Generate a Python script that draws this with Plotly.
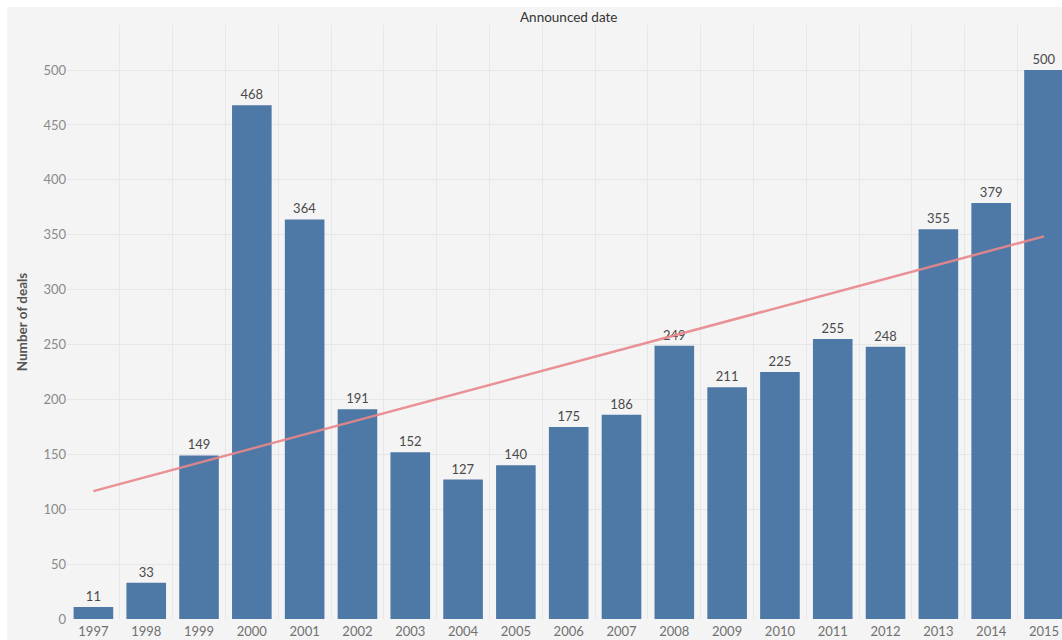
import numpy as np
import plotly.graph_objects as go

years = [str(y) for y in range(1997, 2016)]
deals = [11, 33, 149, 468, 364, 191, 152, 127, 140, 175, 186, 249, 211, 225, 255, 248, 355, 379, 500]
y_ticks = [0, 50, 100, 150, 200, 250, 300, 350, 400, 450, 500]

xs = list(range(len(years)))
slope, intercept = np.polyfit(xs, deals, 1)
trend_x = [xs[0], xs[-1]]
trend_y = [intercept + slope * xs[0], intercept + slope * xs[-1]]

W, H = 1062, 640
ML, MR, MT, MB = 67, 0, 25, 21
pw = W - ML - MR
ph = H - MT - MB
cat_px = 52.81
x_end = -0.5 + pw / cat_px
px_per_unit = 1.0978
y_top = ph / px_per_unit

BG = "#f4f4f4"
GRID = "#e7e7e7"
FONT = "Lato, 'Open Sans', sans-serif"

fig = go.Figure()
fig.add_trace(go.Bar(
    x=xs, y=deals, width=0.75,
    marker=dict(color="#4e79a7", line=dict(width=0)),
    text=[str(v) for v in deals], textposition="outside",
    textfont=dict(size=13, color="#4a4a4a", family=FONT),
    cliponaxis=False, hoverinfo="skip",
))
fig.add_trace(go.Scatter(
    x=trend_x, y=trend_y, mode="lines",
    line=dict(color="#e8878a", width=2.5), opacity=0.9, hoverinfo="skip",
))

fig.add_shape(type="rect", xref="paper", yref="paper",
              x0=(7 - ML) / pw, x1=1.02, y0=-MB / ph - 0.01, y1=(H - 7 - MB) / ph,
              fillcolor=BG, line=dict(width=0), layer="below")

fig.add_annotation(text="Announced date", xref="x", yref="paper",
                   x=(len(years) - 1) / 2, y=1, yanchor="bottom", yshift=-2,
                   showarrow=False, font=dict(size=13.5, color="#333333", family=FONT))

fig.update_layout(
    width=W, height=H,
    margin=dict(l=ML, r=MR, t=MT, b=MB, pad=0),
    paper_bgcolor="white", plot_bgcolor=BG,
    showlegend=False, bargap=0.25,
    font=dict(family=FONT),
)
fig.update_xaxes(
    range=[-0.5, x_end], tickvals=xs, ticktext=years,
    tickfont=dict(size=13, color="#707070", family=FONT),
    showgrid=False, zeroline=False, showline=False, ticks="", ticklabelstandoff=3,
    minor=dict(tickvals=[i + 0.5 for i in xs], showgrid=True, gridcolor=GRID, gridwidth=1, ticks=""),
)
fig.update_yaxes(
    range=[0, y_top], tickvals=y_ticks,
    tickfont=dict(size=13, color="#8a8a8a", family=FONT),
    showgrid=True, gridcolor=GRID, gridwidth=1, zeroline=False, showline=False, ticks="",
    title=dict(text="Number of deals", font=dict(size=13.5, color="#555555", family=FONT, weight="bold"), standoff=12),
)

fig.write_html("out.html")
